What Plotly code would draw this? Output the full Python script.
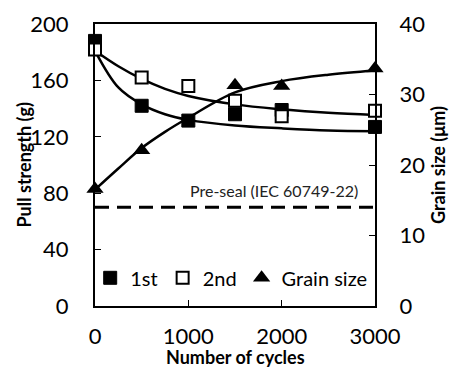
import plotly.graph_objects as go

cycles = [0, 500, 1000, 1500, 2000, 3000]
pull_1st = [188, 142, 131.5, 136, 139, 127]
pull_2nd = [182, 162, 156, 145.5, 134.5, 138.5]
grain_cycles = [0, 500, 1500, 2000, 3000]
grain_size = [16.6, 22.1, 31.3, 31.2, 33.7]

fit_x = [0, 250, 500, 750, 1000, 1500, 2000, 2500, 3000]
fit_1st = [181, 155, 143, 136, 132, 128, 126, 124.5, 124]
fit_2nd = [181, 170, 161, 154, 149, 143, 139.5, 137, 135.5]
fit_grain = [16.5, 19.5, 22.4, 24.7, 26.7, 30.3, 31.9, 32.8, 33.4]

preseal_limit = 70
preseal_label = "Pre-seal (IEC 60749-22)"
x_title = "Number of cycles"
y_title = "Pull strength (g)"
y2_title = "Grain size (μm)"

FONT = "Lato"
fig = go.Figure()

line = dict(color="black", width=2.5)
fig.add_trace(go.Scatter(x=fit_x, y=fit_1st, mode="lines", line=dict(**line, shape="spline"), showlegend=False))
fig.add_trace(go.Scatter(x=fit_x, y=fit_2nd, mode="lines", line=dict(**line, shape="spline"), showlegend=False))
fig.add_trace(go.Scatter(x=fit_x, y=fit_grain, mode="lines", line=dict(**line, shape="spline"), showlegend=False, yaxis="y2"))
fig.add_trace(go.Scatter(x=[0, 3000], y=[preseal_limit]*2, mode="lines",
                         line=dict(color="black", width=3, dash="14px,8px"), showlegend=False))

fig.add_trace(go.Scatter(x=cycles, y=pull_1st, mode="markers", name="1st",
                         marker=dict(symbol="square", size=13, color="black", line=dict(color="black", width=1)),
                         cliponaxis=False))
fig.add_trace(go.Scatter(x=cycles, y=pull_2nd, mode="markers", name="2nd",
                         marker=dict(symbol="square", size=12, color="white", line=dict(color="black", width=2)),
                         cliponaxis=False))
fig.add_trace(go.Scatter(x=grain_cycles, y=grain_size, mode="markers", name="Grain size", yaxis="y2",
                         marker=dict(symbol="triangle-up", size=15, color="black"),
                         cliponaxis=False))

fig.add_annotation(x=2839, y=82, text=preseal_label, showarrow=False, xanchor="right",
                   font=dict(family=FONT, size=16, color="#222"))

title_font = dict(family=FONT, size=18, color="black")
fig.add_annotation(xref="paper", yref="paper", x=0.5, y=-0.18, text=f"<b>{x_title}</b>",
                   showarrow=False, xanchor="center", yanchor="middle", font=title_font)
fig.add_annotation(xref="paper", yref="paper", x=-0.255, y=0.5, text=f"<b>{y_title}</b>",
                   showarrow=False, xanchor="center", yanchor="middle", textangle=-90, font=title_font)
fig.add_annotation(xref="paper", yref="paper", x=1.225, y=0.5, text=f"<b>{y2_title}</b>",
                   showarrow=False, xanchor="center", yanchor="middle", textangle=-90, font=title_font)

fig.update_layout(
    width=451, height=371,
    margin=dict(l=95, r=76, t=24, b=65, autoexpand=False),
    plot_bgcolor="white", paper_bgcolor="white",
    font=dict(family=FONT, size=22, color="black"),
    xaxis=dict(range=[0, 3000], tickvals=[0, 1000, 2000, 3000], automargin=False,
               ticks="inside", ticklen=6, tickwidth=1, tickcolor="black",
               showline=True, linecolor="black", linewidth=2, mirror=True,
               showgrid=False, zeroline=False, ticklabelstandoff=10),
    yaxis=dict(range=[0, 200], tickvals=[0, 40, 80, 120, 160, 200], automargin=False,
               ticks="inside", ticklen=6, tickwidth=1, tickcolor="black",
               showline=True, linecolor="black", linewidth=2,
               showgrid=False, zeroline=False, ticklabelstandoff=20),
    yaxis2=dict(range=[0, 40], tickvals=[0, 10, 20, 30, 40], overlaying="y", side="right",
                automargin=False,
                ticks="inside", ticklen=6, tickwidth=1, tickcolor="black",
                showline=True, linecolor="black", linewidth=2,
                showgrid=False, zeroline=False, ticklabelstandoff=18),
    legend=dict(orientation="h", xref="container", x=0.2, y=0.1, xanchor="left", yanchor="middle",
                bgcolor="rgba(0,0,0,0)", font=dict(size=20), itemwidth=30,
                tracegroupgap=0),
)

fig.write_html("out.html", config={"displayModeBar": False},
               post_script="document.body.style.margin='0';document.body.style.overflow='hidden';")
